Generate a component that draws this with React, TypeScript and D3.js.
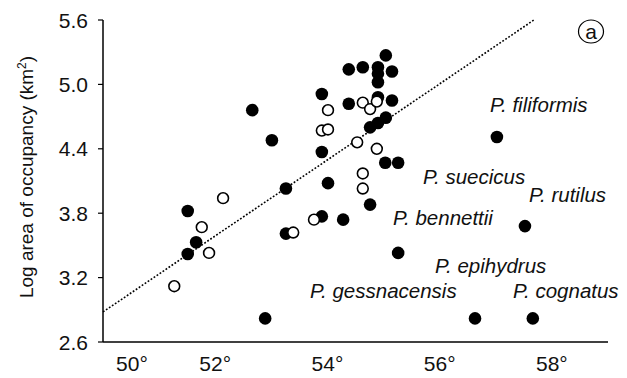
import React from 'react';
import * as d3 from 'd3';

// latitude (deg N) and log area of occupancy
const filledLat = [
  55.04, 54.38, 54.63, 54.9, 54.9, 55.15, 54.9, 53.9, 54.38, 54.9, 55.15, 55.04,
  54.9, 54.76, 53.9, 55.03, 55.26, 52.66, 53.01, 54.01, 54.76, 53.9, 54.28, 53.26,
  51.51, 51.66, 51.51, 52.89, 53.26, 55.26, 57.02, 57.52, 56.63, 57.66,
];
const filledLog = [
  5.27, 5.14, 5.16, 5.16, 5.1, 5.12, 5.02, 4.91, 4.82, 4.88, 4.85, 4.69,
  4.64, 4.6, 4.37, 4.27, 4.27, 4.76, 4.48, 4.08, 3.88, 3.77, 3.74, 4.03,
  3.82, 3.53, 3.42, 2.82, 3.61, 3.43, 4.51, 3.68, 2.82, 2.82,
];
const openLat = [
  54.01, 54.63, 54.76, 54.88, 53.9, 54.01, 54.53, 54.88, 54.63, 54.63, 53.76,
  52.14, 51.76, 51.89, 51.27, 53.39,
];
const openLog = [
  4.76, 4.83, 4.77, 4.84, 4.57, 4.58, 4.46, 4.4, 4.17, 4.03, 3.74,
  3.94, 3.67, 3.43, 3.12, 3.62,
];

// fitted line end points
const fitLat = [50, 57.68];
const fitLog = [2.88, 5.6];

const yTicks = [2.6, 3.2, 3.8, 4.4, 5.0, 5.6];
const xTicks = [50, 52, 54, 56, 58];

const speciesNames = [
  'P. filiformis', 'P. suecicus', 'P. rutilus', 'P. bennettii',
  'P. epihydrus', 'P. gessnacensis', 'P. cognatus',
];
const speciesLabelPos: [number, number][] = [
  [490, 112], [423, 184], [529, 202], [393, 225],
  [435, 273], [310, 298], [513, 298],
];

const W = 627;
const H = 378;
const font = '"Liberation Sans", Arial, sans-serif';

export default function App() {
  const x = d3.scaleLinear().domain([50, 59]).range([103, 608]);
  const y = d3.scaleLinear().domain([2.6, 5.6]).range([342, 20]);

  const fit = d3.line<number>()
    .x((d) => x(fitLat[d]))
    .y((d) => y(fitLog[d]));

  return (
    <svg width={W} height={H} style={{ position: 'absolute', left: 0, top: 0 }} fontFamily={font}>
      <rect width={W} height={H} fill="#fff" />

      {/* axes */}
      <line x1={103} x2={103} y1={y(5.6)} y2={y(2.6)} stroke="#000" strokeWidth={1.5} />
      <line x1={103} x2={608} y1={y(2.6)} y2={y(2.6)} stroke="#000" strokeWidth={1.5} />
      {yTicks.map((t) => (
        <g key={t}>
          <line x1={98} x2={103} y1={y(t)} y2={y(t)} stroke="#000" strokeWidth={1.2} />
          <text x={88} y={y(t)} dy="0.36em" textAnchor="end" fontSize={21} fill="#111">
            {t.toFixed(1)}
          </text>
        </g>
      ))}
      {xTicks.map((t, i) => (
        <text key={t} x={i === 0 ? x(t) + 29 : x(t)} y={371} textAnchor="middle" fontSize={21} fill="#111">
          {t}°
        </text>
      ))}

      <text transform="translate(33,177) rotate(-90)" textAnchor="middle" fontSize={19} fill="#111">
        Log area of occupancy (km<tspan dy={-7} fontSize={12}>2</tspan><tspan dy={7}>)</tspan>
      </text>

      {/* regression line */}
      <path d={fit([0, 1]) || ''} fill="none" stroke="#000" strokeWidth={1.6} strokeDasharray="1.8 1.8" />

      {filledLat.map((v, i) => (
        <circle key={'f' + i} cx={x(v)} cy={y(filledLog[i])} r={6.3} fill="#000" />
      ))}
      {openLat.map((v, i) => (
        <circle key={'o' + i} cx={x(v)} cy={y(openLog[i])} r={5.4} fill="#fff" stroke="#000" strokeWidth={1.6} />
      ))}

      {speciesNames.map((s, i) => (
        <text key={s} x={speciesLabelPos[i][0]} y={speciesLabelPos[i][1]} fontSize={20.5} fontStyle="italic" fill="#111">
          {s}
        </text>
      ))}

      <ellipse cx={591} cy={31.5} rx={12.5} ry={11.5} fill="none" stroke="#000" strokeWidth={1.2} />
      <text x={591} y={31.5} dy="0.36em" textAnchor="middle" fontSize={21} fill="#111">a</text>
    </svg>
  );
}
